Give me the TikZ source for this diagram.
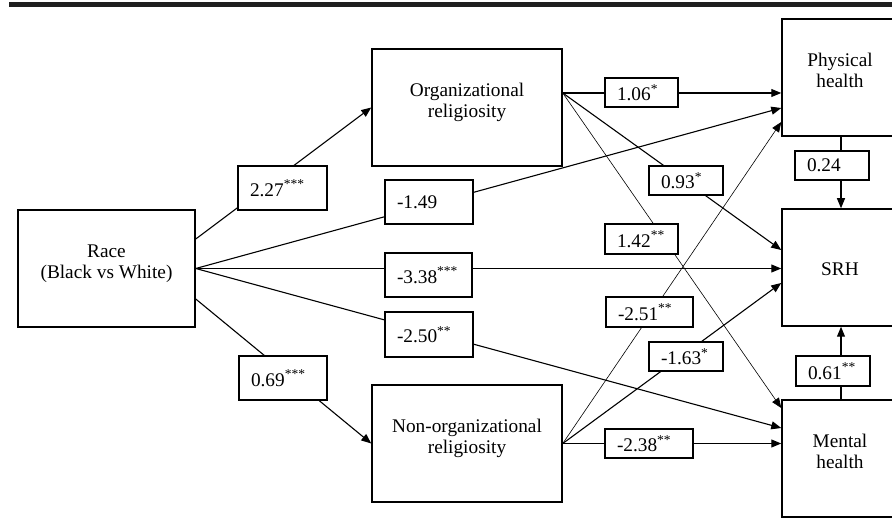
\documentclass[tikz,border=0pt]{standalone}
\usepackage{fontspec}
\setmainfont{Liberation Serif}
\usetikzlibrary{arrows.meta}
\newcommand\mainf{\fontsize{19.3}{21.5}\selectfont}
\newcommand\twol[2]{\raisebox{5pt}[\height][\depth]{\begin{tabular}{@{}c@{}}#1\\#2\end{tabular}}}
\begin{document}
\begin{tikzpicture}[x=1pt,y=-1pt,
  box/.style={draw, line width=1.5pt, fill=white, inner sep=0pt, align=center, font=\mainf},
  lab/.style={draw, line width=1.2pt, fill=white, inner xsep=12pt, inner ysep=0pt, align=left, font=\mainf},
  conn/.style={line width=1.1pt, -{Triangle[length=10pt,width=8pt]}},
  thinconn/.style={line width=0.6pt, -{Triangle[length=10pt,width=8pt]}}]
\useasboundingbox (0,0) rectangle (892,518);
\clip (0,0) rectangle (892,518);
\fill[black!88] (9,2) rectangle (892,7.5);

% main boxes
\node[box, minimum width=177pt, minimum height=117pt] (race) at (106.5,268.5) {\twol{Race}{(Black vs White)}};
\node[box, minimum width=190pt, minimum height=117pt] (org) at (467,107.5) {\twol{Organizational}{religiosity}};
\node[box, minimum width=190pt, minimum height=117pt] (nonorg) at (467,443.5) {\twol{Non-organizational}{religiosity}};
\node[box, minimum width=116pt, minimum height=117pt] (phys) at (840,77.5) {\twol{Physical}{health}};
\node[box, minimum width=116pt, minimum height=117pt] (srh) at (840,267.5) {\raisebox{-2pt}[\height][\depth]{SRH}};
\node[box, minimum width=116pt, minimum height=117pt] (mental) at (840,458.5) {\twol{Mental}{health}};

% connectors
\coordinate (orgR) at ([yshift=14.5pt]org.east);
\draw[conn] ([yshift=29.5pt]race.east) -- (org.west);
\draw[conn] ([yshift=-30.5pt]race.east) -- (nonorg.west);
\draw[conn] (race.east) -- ([yshift=-30.5pt]phys.west);
\draw[conn] (race.east) -- (race.east -| srh.west);
\draw[conn] (race.east) -- ([yshift=30.5pt]mental.west);
\draw[conn] (orgR) -- (orgR -| phys.west);
\draw[conn] (orgR) -- ([yshift=17.5pt]srh.west);
\draw[thinconn] (orgR) -- ([yshift=50.5pt]mental.west);
\draw[thinconn] (nonorg.east) -- ([yshift=-44.5pt]phys.west);
\draw[conn] (nonorg.east) -- ([yshift=-15.5pt]srh.west);
\draw[conn] (nonorg.east) -- (nonorg.east -| mental.west);
\draw[conn] ([xshift=1pt]phys.south) -- ([xshift=1pt]srh.north);
\draw[conn] ([xshift=1pt]mental.north) -- ([xshift=1pt]srh.south);

% labels
\node[lab, text width=65pt, minimum height=44pt] (l227) at (282.5,188) {2.27\textsuperscript{***}};
\node[lab, text width=64pt, minimum height=44pt] (l069) at (283,378) {0.69\textsuperscript{***}};
\node[lab, text width=64pt, minimum height=44pt] (l149) at (429,202) {-1.49};
\node[lab, text width=63pt, minimum height=44pt] (l338) at (428.5,275) {-3.38\textsuperscript{***}};
\node[lab, text width=64pt, minimum height=45pt] (l250) at (429,334.5) {-2.50\textsuperscript{**}};
\node[lab, text width=49pt, minimum height=29pt] (l106) at (641.5,92.5) {1.06\textsuperscript{*}};
\node[lab, text width=50pt, minimum height=29pt] (l093) at (686,180.5) {0.93\textsuperscript{*}};
\node[lab, text width=49pt, minimum height=30pt] (l142) at (641.5,239) {1.42\textsuperscript{**}};
\node[lab, text width=63pt, minimum height=30pt] (l251) at (649.5,312) {-2.51\textsuperscript{**}};
\node[lab, text width=50pt, minimum height=29pt] (l163) at (686,356.5) {-1.63\textsuperscript{*}};
\node[lab, text width=64pt, minimum height=29pt] (l238) at (649,443.5) {-2.38\textsuperscript{**}};
\node[lab, text width=50pt, minimum height=29pt] (l024) at (832,165.5) {0.24};
\node[lab, text width=50pt, minimum height=30pt] (l061) at (833,371) {0.61\textsuperscript{**}};
\end{tikzpicture}
\end{document}
